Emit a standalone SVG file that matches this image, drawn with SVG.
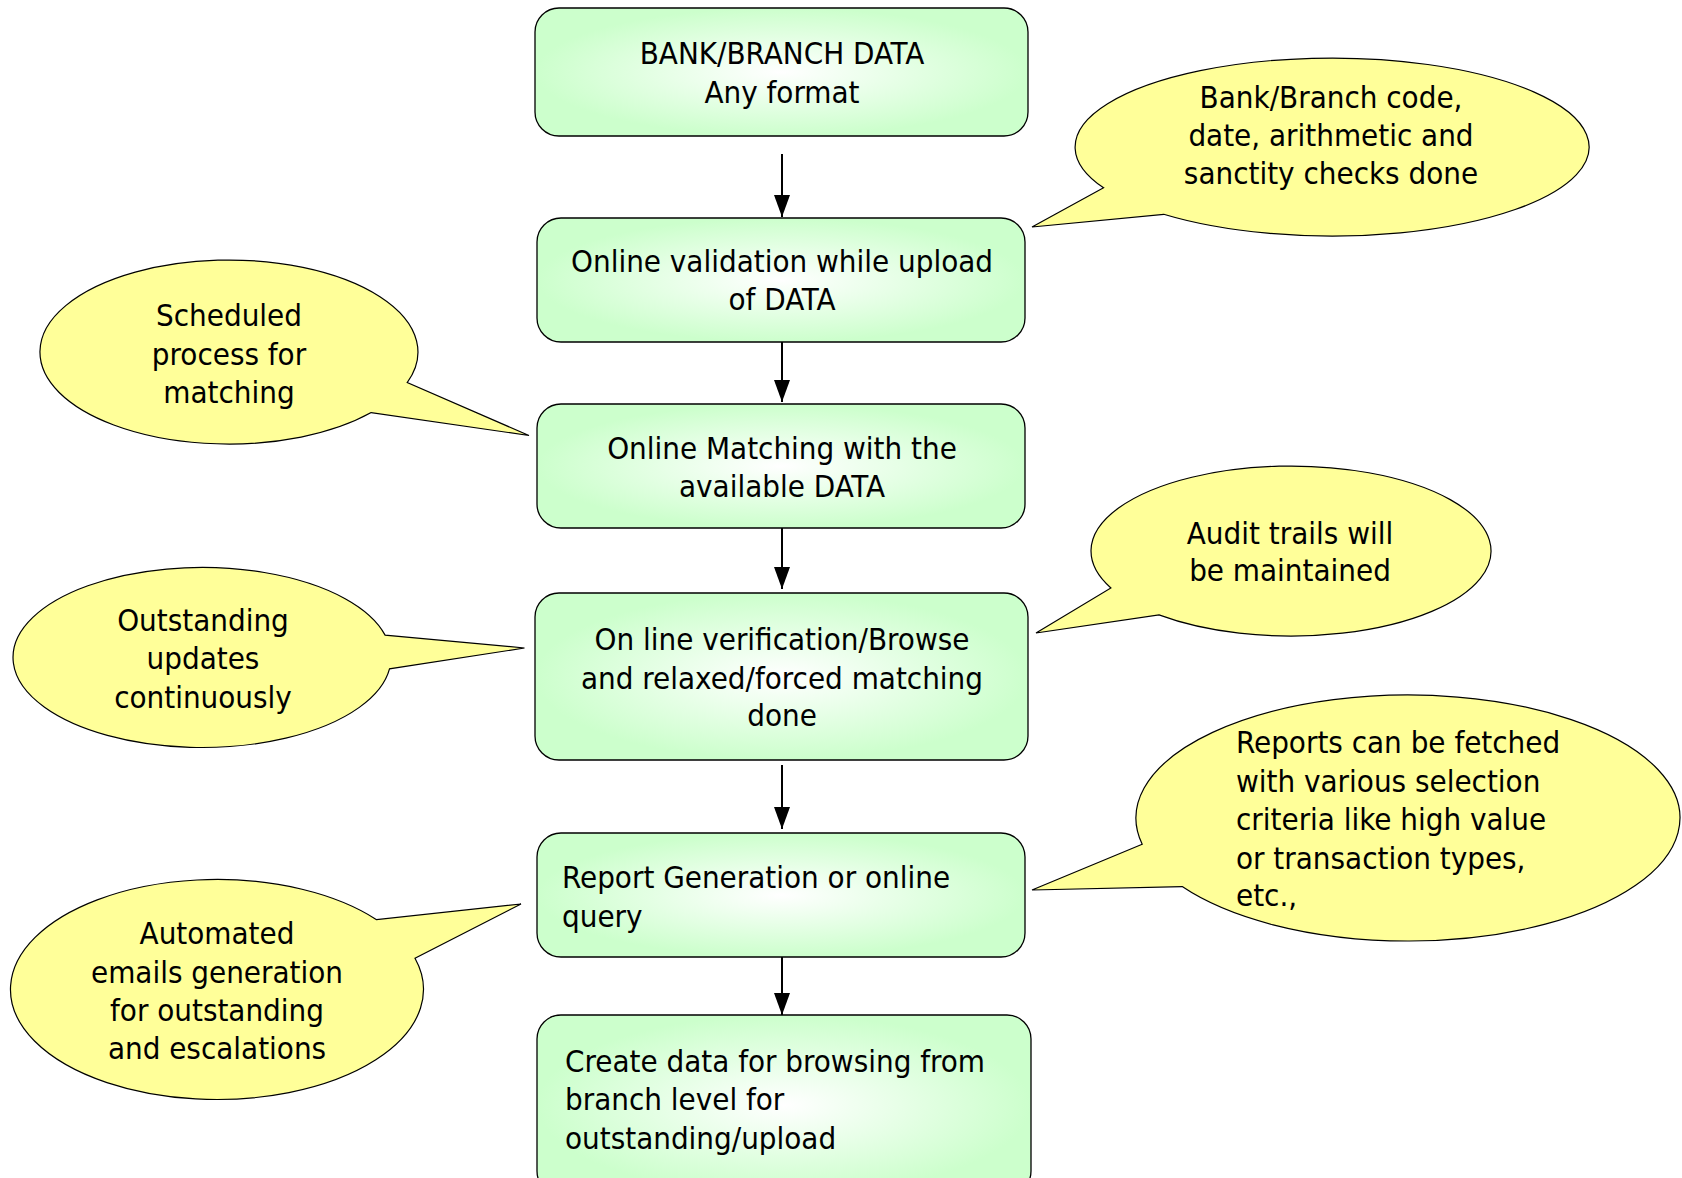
<svg xmlns="http://www.w3.org/2000/svg" width="1682" height="1178" viewBox="0 0 1682 1178">
<style>
  .box { stroke: #000; stroke-width: 1.3; }
  .bub { fill: #ffff99; stroke: #000; stroke-width: 1.2; stroke-linejoin: miter; }
  text { font-family: "DejaVu Sans Condensed", "DejaVu Sans", sans-serif; font-stretch: condensed; font-size: 31px; fill: #000; }
  .c { text-anchor: middle; }
  .conn line { stroke: #000; stroke-width: 2; }
</style>
<defs>
  <radialGradient id="g" cx="50%" cy="50%" r="50%">
    <stop offset="0" stop-color="#ffffff"/>
    <stop offset="1" stop-color="#ccffcc"/>
  </radialGradient>
  <marker id="ah" markerWidth="22" markerHeight="16" refX="22" refY="8" viewBox="0 0 22 16" orient="auto" markerUnits="userSpaceOnUse">
    <path d="M0,0 L22,8 L0,16 Z" fill="#000"/>
  </marker>
</defs>
<rect width="1682" height="1178" fill="#fff"/>

<g class="conn">
  <line x1="782" y1="154" x2="782" y2="217" marker-end="url(#ah)"/>
  <line x1="782" y1="339" x2="782" y2="402" marker-end="url(#ah)"/>
  <line x1="782" y1="525" x2="782" y2="589" marker-end="url(#ah)"/>
  <line x1="782" y1="765" x2="782" y2="829" marker-end="url(#ah)"/>
  <line x1="782" y1="954" x2="782" y2="1015" marker-end="url(#ah)"/>
</g>

<g id="n1">
  <rect class="box" x="535" y="8" width="493" height="128" rx="24" fill="url(#g)"/>
  <text class="c" x="782" y="64">BANK/BRANCH DATA</text>
  <text class="c" x="782" y="103">Any format</text>
</g>
<g id="n2">
  <rect class="box" x="537" y="218" width="488" height="124" rx="24" fill="url(#g)"/>
  <text class="c" x="782" y="272">Online validation while upload</text>
  <text class="c" x="782" y="310">of DATA</text>
</g>
<g id="n3">
  <rect class="box" x="537" y="404" width="488" height="124" rx="24" fill="url(#g)"/>
  <text class="c" x="782" y="459">Online Matching with the</text>
  <text class="c" x="782" y="497">available DATA</text>
</g>
<g id="n4">
  <rect class="box" x="535" y="593" width="493" height="167" rx="24" fill="url(#g)"/>
  <text class="c" x="782" y="650">On line verification/Browse</text>
  <text class="c" x="782" y="689">and relaxed/forced matching</text>
  <text class="c" x="782" y="726">done</text>
</g>
<g id="n5">
  <rect class="box" x="537" y="833" width="488" height="124" rx="24" fill="url(#g)"/>
  <text x="562" y="888">Report Generation or online</text>
  <text x="562" y="927">query</text>
</g>
<g id="n6">
  <rect class="box" x="537" y="1015" width="494" height="180" rx="24" fill="url(#g)"/>
  <text x="565" y="1072">Create data for browsing from</text>
  <text x="565" y="1110">branch level for</text>
  <text x="565" y="1149">outstanding/upload</text>
</g>

<g id="b1">
  <path class="bub" d="M1163.7,214.3 A257,89 0 1 0 1103.6,187.8 L1032,227 Z"/>
  <text class="c" x="1331" y="108">Bank/Branch code,</text>
  <text class="c" x="1331" y="146">date, arithmetic and</text>
  <text class="c" x="1331" y="184">sanctity checks done</text>
</g>
<g id="b2">
  <path class="bub" d="M371.2,412.6 A189,92 0 1 1 407.2,382.6 L529,435.5 Z"/>
  <text class="c" x="229" y="326">Scheduled</text>
  <text class="c" x="229" y="365">process for</text>
  <text class="c" x="229" y="403">matching</text>
</g>
<g id="b3">
  <path class="bub" d="M389.5,668.9 A189,90 0 1 1 385.1,635.1 L524.5,648 Z"/>
  <text class="c" x="203" y="631">Outstanding</text>
  <text class="c" x="203" y="669">updates</text>
  <text class="c" x="203" y="708">continuously</text>
</g>
<g id="b4">
  <path class="bub" d="M1159,614.9 A200,85 0 1 0 1110.9,588 L1036,633 Z"/>
  <text class="c" x="1290" y="544">Audit trails will</text>
  <text class="c" x="1290" y="581">be maintained</text>
</g>
<g id="b5">
  <path class="bub" d="M1182.2,886.6 A272,123 0 1 0 1142.2,844.2 L1032,890 Z"/>
  <text x="1236" y="753">Reports can be fetched</text>
  <text x="1236" y="792">with various selection</text>
  <text x="1236" y="830">criteria like high value</text>
  <text x="1236" y="869">or transaction types,</text>
  <text x="1236" y="906">etc.,</text>
</g>
<g id="b6">
  <path class="bub" d="M415,958.3 A206.5,110 0 1 1 376.6,919.7 L521,904 Z"/>
  <text class="c" x="217" y="944">Automated</text>
  <text class="c" x="217" y="983">emails generation</text>
  <text class="c" x="217" y="1021">for outstanding</text>
  <text class="c" x="217" y="1059">and escalations</text>
</g>
</svg>
